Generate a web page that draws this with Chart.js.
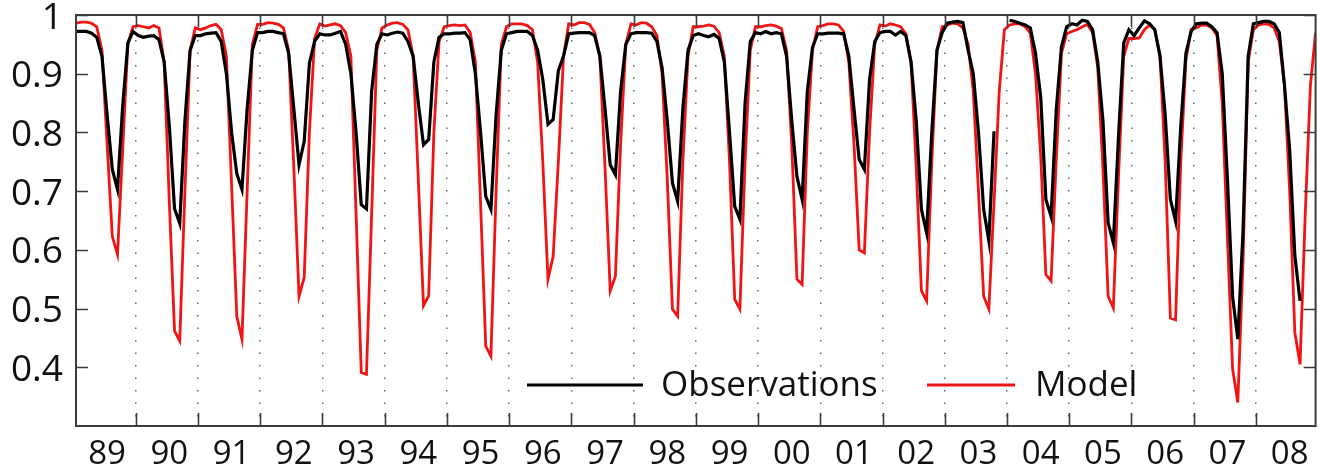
<!DOCTYPE html>
<html>
<head>
<meta charset="utf-8">
<script src="https://cdn.jsdelivr.net/npm/chart.js@4.4.1/dist/chart.umd.min.js"></script>
<style>
html,body{margin:0;padding:0;background:#fff;}
#wrap{position:relative;width:1318px;height:472px;}
</style>
</head>
<body>
<div id="wrap"><canvas id="c" width="1318" height="472"></canvas></div>
<script>
// ---- data (monthly, Jan 1989 – Dec 2008) ----
const yearLabels = ['89','90','91','92','93','94','95','96','97','98','99','00','01','02','03','04','05','06','07','08'];
const seriesNames = ['Observations', 'Model'];
const yTickValues = [0.4, 0.5, 0.6, 0.7, 0.8, 0.9, 1.0];

const observations = [
  0.972,0.972,0.972,0.969,0.962,0.930,0.830,0.737,0.703,0.845,0.952,0.972, // 89
  0.965,0.962,0.964,0.965,0.958,0.920,0.810,0.670,0.645,0.820,0.940,0.965, // 90
  0.965,0.968,0.969,0.970,0.955,0.900,0.800,0.730,0.703,0.840,0.940,0.970, // 91
  0.970,0.972,0.972,0.970,0.968,0.935,0.840,0.745,0.785,0.918,0.955,0.968, // 92
  0.966,0.966,0.969,0.972,0.950,0.900,0.800,0.677,0.670,0.870,0.950,0.968, // 93
  0.966,0.969,0.971,0.969,0.955,0.930,0.850,0.779,0.788,0.920,0.962,0.968, // 94
  0.968,0.969,0.969,0.970,0.958,0.900,0.800,0.691,0.669,0.830,0.940,0.968, // 95
  0.970,0.972,0.972,0.972,0.965,0.940,0.890,0.814,0.822,0.905,0.930,0.968, // 96
  0.969,0.970,0.970,0.970,0.965,0.930,0.840,0.745,0.728,0.870,0.950,0.968, // 97
  0.970,0.970,0.970,0.969,0.955,0.910,0.820,0.714,0.683,0.840,0.940,0.965, // 98
  0.968,0.965,0.963,0.967,0.960,0.920,0.800,0.674,0.652,0.850,0.955,0.970, // 99
  0.968,0.972,0.968,0.970,0.968,0.930,0.820,0.725,0.686,0.870,0.945,0.968, // 00
  0.968,0.969,0.969,0.969,0.968,0.930,0.840,0.754,0.737,0.890,0.955,0.970, // 01
  0.972,0.972,0.966,0.972,0.965,0.920,0.820,0.669,0.629,0.800,0.940,0.970, // 02
  0.986,0.988,0.989,0.987,0.940,0.900,0.800,0.669,0.615,0.802,null,null,   // 03
  0.991,0.989,0.986,0.983,0.978,0.935,0.860,0.686,0.657,0.839,0.946,0.980, // 04
  0.985,0.983,0.991,0.989,0.975,0.920,0.820,0.646,0.612,0.793,0.952,0.975, // 05
  0.965,0.978,0.990,0.985,0.975,0.930,0.830,0.686,0.649,0.810,0.935,0.972, // 06
  0.985,0.986,0.986,0.980,0.970,0.900,0.720,0.520,0.448,0.630,0.930,0.985, // 07
  0.987,0.989,0.989,0.985,0.970,0.880,0.770,0.590,0.513,null,null,null     // 08
];

const model = [
  0.986,0.988,0.988,0.986,0.980,0.940,0.780,0.623,0.592,0.770,0.952,0.980, // 89
  0.982,0.980,0.978,0.982,0.978,0.920,0.680,0.462,0.445,0.700,0.940,0.978, // 90
  0.975,0.978,0.982,0.984,0.975,0.930,0.710,0.487,0.448,0.700,0.950,0.984, // 91
  0.984,0.987,0.986,0.984,0.978,0.940,0.740,0.521,0.553,0.800,0.960,0.985, // 92
  0.981,0.983,0.985,0.982,0.970,0.930,0.660,0.391,0.388,0.660,0.940,0.978, // 93
  0.983,0.986,0.987,0.984,0.975,0.930,0.720,0.505,0.522,0.800,0.955,0.980, // 94
  0.982,0.983,0.982,0.983,0.970,0.920,0.680,0.436,0.419,0.700,0.950,0.980, // 95
  0.985,0.985,0.985,0.982,0.975,0.920,0.750,0.550,0.589,0.750,0.930,0.985, // 96
  0.983,0.987,0.987,0.984,0.970,0.930,0.740,0.530,0.555,0.780,0.950,0.985, // 97
  0.983,0.987,0.986,0.980,0.965,0.900,0.720,0.499,0.487,0.750,0.930,0.980, // 98
  0.980,0.981,0.983,0.981,0.970,0.930,0.750,0.516,0.499,0.750,0.940,0.980, // 99
  0.980,0.982,0.983,0.981,0.977,0.940,0.780,0.550,0.541,0.800,0.940,0.980, // 00
  0.982,0.985,0.985,0.983,0.972,0.920,0.780,0.600,0.595,0.800,0.950,0.983, // 01
  0.981,0.985,0.983,0.980,0.968,0.920,0.740,0.530,0.513,0.750,0.940,0.980, // 02
  0.983,0.986,0.985,0.978,0.950,0.870,0.700,0.521,0.499,0.680,0.870,0.975, // 03
  0.983,0.985,0.985,0.980,0.969,0.900,0.760,0.558,0.547,0.754,0.935,0.968, // 04
  0.972,0.975,0.980,0.984,0.970,0.910,0.740,0.521,0.501,0.725,0.929,0.960, // 05
  0.960,0.961,0.975,0.983,0.975,0.930,0.750,0.484,0.481,0.750,0.924,0.975, // 06
  0.978,0.983,0.983,0.978,0.965,0.850,0.620,0.397,0.340,0.580,0.920,0.975, // 07
  0.983,0.985,0.984,0.978,0.955,0.880,0.700,0.459,0.405,0.660,0.880,0.970  // 08
];

// ---- derived helpers ----
const MONTHS = 12;
const yearBoundaries = yearLabels.slice(1).map((_, k) => (k + 1) * MONTHS - 0.5);
const labelPositions = yearLabels.map((_, k) => k * MONTHS + 6);
const toPoints = arr => arr.map((v, i) => ({ x: i, y: v }));

const FONT = '"Open Sans", "DejaVu Sans", sans-serif';
const AXIS_COLOR = '#3c3c3c';
const LINE_COLORS = ['#000000', '#f01414'];

const framePlugin = {
  id: 'frameAndLegend',
  afterDraw(chart) {
    const { ctx, chartArea: { left, right, top, bottom }, scales: { x, y } } = chart;
    ctx.save();
    // frame
    ctx.strokeStyle = AXIS_COLOR;
    ctx.lineWidth = 2;
    ctx.setLineDash([]);
    ctx.strokeRect(left, top, right - left, bottom - top);
    // inward tick marks
    ctx.beginPath();
    yTickValues.forEach(v => {
      const py = Math.round(y.getPixelForValue(v)) + 0.5;
      ctx.moveTo(left, py); ctx.lineTo(left + 12, py);
      ctx.moveTo(right, py); ctx.lineTo(right - 12, py);
    });
    yearBoundaries.forEach(b => {
      const px = Math.round(x.getPixelForValue(b)) + 0.5;
      ctx.moveTo(px, bottom); ctx.lineTo(px, bottom - 13);
      ctx.moveTo(px, top); ctx.lineTo(px, top + 12);
    });
    ctx.lineWidth = 1.6;
    ctx.stroke();

    // legend
    const items = [
      { x1: 527, x2: 643, tx: 661 },
      { x1: 927, x2: 1015, tx: 1035 }
    ];
    ctx.font = '35px ' + FONT;
    ctx.textBaseline = 'alphabetic';
    ctx.textAlign = 'left';
    chart.data.datasets.forEach((ds, i) => {
      const it = items[i];
      ctx.beginPath();
      ctx.strokeStyle = ds.borderColor;
      ctx.lineWidth = 3;
      ctx.moveTo(it.x1, 385); ctx.lineTo(it.x2, 385);
      ctx.stroke();
      ctx.fillStyle = '#111';
      ctx.fillText(ds.label, it.tx, 396);
    });
    ctx.restore();
  }
};

new Chart(document.getElementById('c'), {
  type: 'line',
  data: {
    datasets: [
      { label: seriesNames[0], data: toPoints(observations), borderColor: LINE_COLORS[0], borderWidth: 3.2, pointRadius: 0, tension: 0, spanGaps: false },
      { label: seriesNames[1], data: toPoints(model), borderColor: LINE_COLORS[1], borderWidth: 2.8, pointRadius: 0, tension: 0, spanGaps: false }
    ]
  },
  options: {
    responsive: false,
    animation: false,
    devicePixelRatio: 1,
    layout: { padding: { top: 15, right: 2.4, left: 0, bottom: 0 } },
    plugins: { legend: { display: false }, tooltip: { enabled: false } },
    events: [],
    scales: {
      x: {
        type: 'linear',
        min: 0,
        max: observations.length - 1,
        afterBuildTicks: s => {
          s.ticks = [...yearBoundaries, ...labelPositions].sort((a, b) => a - b).map(v => ({ value: v }));
        },
        afterFit: s => { s.height = 46; s.paddingLeft = 0; s.paddingRight = 0; },
        ticks: {
          autoSkip: false,
          maxRotation: 0,
          padding: 9,
          color: '#111',
          font: { family: FONT, size: 33 },
          callback: v => {
            const k = labelPositions.indexOf(v);
            return k >= 0 ? yearLabels[k] : '';
          }
        },
        grid: {
          drawTicks: false,
          lineWidth: 1.5,
          color: ctx => (ctx.tick && yearBoundaries.includes(ctx.tick.value)) ? '#6a6a6a' : 'rgba(0,0,0,0)'
        },
        border: { display: false, dash: [1.5, 11] }
      },
      y: {
        type: 'linear',
        min: 0.3,
        max: 1.0,
        afterBuildTicks: s => { s.ticks = yTickValues.map(v => ({ value: v })); },
        afterFit: s => { s.width = 76; s.paddingTop = 0; s.paddingBottom = 0; },
        ticks: {
          padding: 13,
          labelOffset: 3,
          color: '#111',
          font: { family: FONT, size: 37 },
          callback: v => (Math.abs(v - 1) < 1e-9 ? '1' : v.toFixed(1))
        },
        grid: { display: false, drawTicks: false },
        border: { display: false }
      }
    }
  },
  plugins: [framePlugin]
});
</script>
</body>
</html>
